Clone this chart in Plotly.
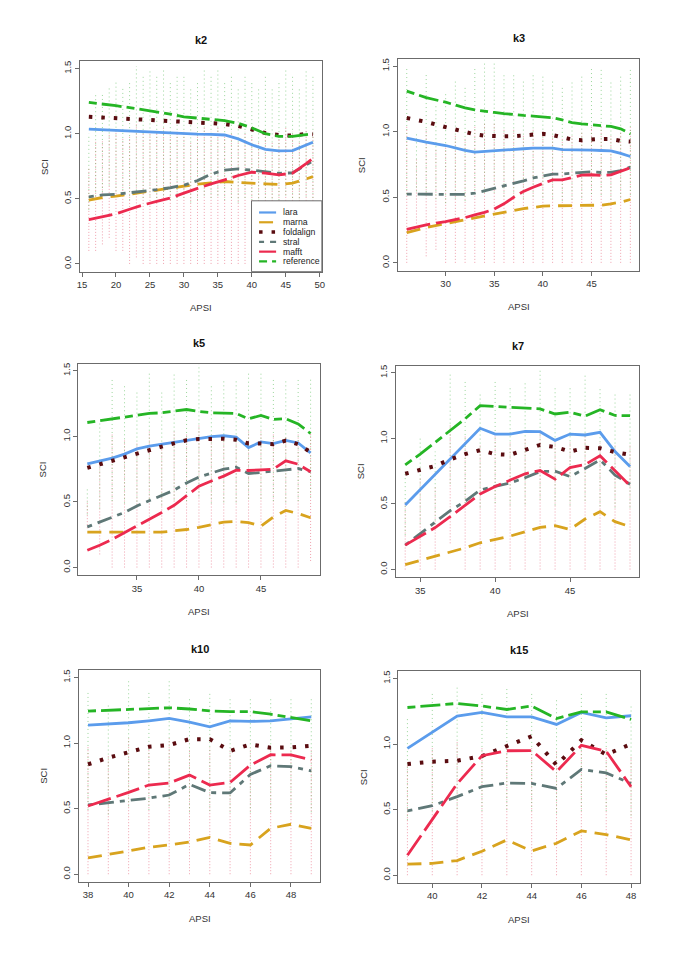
import plotly.graph_objects as go

# ---- k2 ----
k2_apsi = [16, 18, 20, 22, 24, 26, 28, 30, 32, 34, 36, 38, 40, 42, 44, 46, 48, 49]
k2_lara = [1.035, 1.03, 1.025, 1.018, 1.013, 1.008, 1.005, 1.0, 0.997, 0.995, 0.99, 0.96, 0.915, 0.88, 0.868, 0.87, 0.91, 0.935]
k2_marna = [0.49, 0.51, 0.52, 0.535, 0.55, 0.565, 0.58, 0.6, 0.613, 0.623, 0.633, 0.625, 0.618, 0.615, 0.61, 0.62, 0.653, 0.67]
k2_foldalign = [1.13, 1.125, 1.12, 1.115, 1.11, 1.105, 1.1, 1.095, 1.09, 1.085, 1.075, 1.06, 1.035, 1.005, 0.99, 0.985, 1.0, 0.995]
k2_stral = [0.515, 0.53, 0.535, 0.545, 0.555, 0.57, 0.585, 0.605, 0.64, 0.69, 0.72, 0.73, 0.72, 0.71, 0.695, 0.7, 0.76, 0.79]
k2_mafft = [0.34, 0.36, 0.385, 0.42, 0.453, 0.48, 0.506, 0.544, 0.582, 0.615, 0.646, 0.679, 0.704, 0.697, 0.684, 0.697, 0.77, 0.81]
k2_reference = [1.24, 1.23, 1.215, 1.2, 1.185, 1.168, 1.15, 1.13, 1.12, 1.11, 1.1, 1.08, 1.045, 1.0, 0.98, 0.98, 0.995, 1.0]
k2_col_x = list(range(16, 50))
k2_col_lo = [0.1, 0.1, 0.15, 0.2, 0.1, 0.1, 0.0, 0.05, 0.0, 0.0, 0.0, 0.0, 0.0, 0.0, 0.0, 0.0, 0.0,
             0.0, 0.0, 0.0, 0.0, 0.0, 0.0, 0.0, 0.0, 0.0, 0.0, 0.0, 0.0, 0.0, 0.0, 0.0, 0.0, 0.0]
k2_col_hi = [1.0, 1.3, 1.3, 1.35, 1.4, 1.35, 1.4, 1.52, 1.45, 1.48, 1.45, 1.5, 1.4, 1.45, 1.45, 1.35, 1.4,
             1.5, 1.45, 1.5, 1.4, 1.45, 1.35, 1.45, 1.4, 1.35, 1.45, 1.35, 1.4, 1.5, 1.45, 1.35, 1.48, 1.45]

# ---- k3 ----
k3_apsi = [26, 28, 30, 32, 33, 34, 35, 36, 37, 38, 39, 40, 41, 42, 43, 44, 45, 46, 47, 48, 49]
k3_lara = [0.951, 0.92, 0.895, 0.857, 0.844, 0.85, 0.857, 0.86, 0.864, 0.87, 0.875, 0.875, 0.875, 0.864, 0.864, 0.864, 0.86, 0.857, 0.854, 0.835, 0.811]
k3_marna = [0.23, 0.27, 0.3, 0.33, 0.345, 0.355, 0.37, 0.39, 0.4, 0.414, 0.425, 0.432, 0.435, 0.435, 0.435, 0.435, 0.437, 0.44, 0.45, 0.463, 0.483]
k3_foldalign = [1.105, 1.075, 1.035, 0.995, 0.98, 0.97, 0.965, 0.965, 0.966, 0.97, 0.975, 0.984, 0.975, 0.955, 0.94, 0.935, 0.942, 0.945, 0.945, 0.93, 0.925]
k3_stral = [0.524, 0.522, 0.52, 0.522, 0.531, 0.55, 0.565, 0.585, 0.603, 0.625, 0.648, 0.664, 0.676, 0.678, 0.685, 0.692, 0.695, 0.689, 0.69, 0.704, 0.73]
k3_mafft = [0.255, 0.29, 0.315, 0.345, 0.366, 0.385, 0.41, 0.45, 0.5, 0.545, 0.577, 0.608, 0.633, 0.633, 0.65, 0.669, 0.672, 0.666, 0.671, 0.699, 0.725]
k3_reference = [1.31, 1.26, 1.225, 1.182, 1.167, 1.155, 1.147, 1.138, 1.129, 1.124, 1.119, 1.11, 1.106, 1.09, 1.07, 1.06, 1.055, 1.048, 1.04, 1.022, 0.984]
k3_col_x = list(range(26, 50))
k3_col_lo = [0.0, 0.3, 0.05, 0.1, 0.0, 0.0, 0.0, 0.0, 0.0, 0.0, 0.0, 0.0,
             0.0, 0.0, 0.0, 0.0, 0.0, 0.0, 0.0, 0.0, 0.0, 0.0, 0.0, 0.0]
k3_col_hi = [1.5, 1.0, 1.45, 1.2, 1.3, 1.4, 1.35, 1.5, 1.53, 1.53, 1.45, 1.45,
             1.4, 1.45, 1.42, 1.4, 1.35, 1.38, 1.42, 1.5, 1.48, 1.38, 1.42, 1.48]

# ---- k5 ----
k5_apsi = list(range(31, 50))
k5_lara = [0.79, 0.81, 0.835, 0.865, 0.905, 0.925, 0.94, 0.955, 0.97, 0.985, 0.998, 1.005, 0.995, 0.915, 0.958, 0.945, 0.97, 0.95, 0.875]
k5_marna = [0.27, 0.27, 0.27, 0.27, 0.27, 0.27, 0.27, 0.28, 0.29, 0.307, 0.325, 0.346, 0.351, 0.343, 0.315, 0.386, 0.435, 0.412, 0.38]
k5_foldalign = [0.76, 0.788, 0.816, 0.845, 0.87, 0.897, 0.922, 0.947, 0.97, 0.98, 0.984, 0.982, 0.975, 0.946, 0.946, 0.94, 0.968, 0.94, 0.88]
k5_stral = [0.31, 0.345, 0.385, 0.42, 0.47, 0.51, 0.55, 0.59, 0.645, 0.69, 0.72, 0.75, 0.765, 0.717, 0.725, 0.737, 0.745, 0.755, 0.732]
k5_mafft = [0.132, 0.17, 0.215, 0.265, 0.32, 0.37, 0.42, 0.475, 0.545, 0.62, 0.66, 0.697, 0.742, 0.74, 0.745, 0.75, 0.814, 0.788, 0.73]
k5_reference = [1.106, 1.12, 1.135, 1.15, 1.165, 1.175, 1.18, 1.19, 1.205, 1.19, 1.18, 1.178, 1.175, 1.134, 1.16, 1.13, 1.135, 1.095, 1.022]
k5_col_x = list(range(31, 50))
k5_col_lo = [0.3, 0.1, 0.0, 0.0, 0.0, 0.0, 0.0, 0.0, 0.0, 0.0, 0.0, 0.0, 0.0, 0.0, 0.0, 0.0, 0.0, 0.0, 0.05]
k5_col_hi = [0.6, 1.1, 1.45, 1.4, 1.35, 1.5, 1.35, 1.48, 1.45, 1.55, 1.4, 1.42, 1.42, 1.5, 1.5, 1.45, 1.42, 1.45, 1.45]

# ---- k7 ----
k7_apsi = list(range(34, 50))
k7_lara = [0.492, 0.61, 0.725, 0.84, 0.96, 1.077, 1.033, 1.033, 1.054, 1.051, 0.985, 1.033, 1.026, 1.046, 0.9, 0.786]
k7_marna = [0.038, 0.07, 0.1, 0.135, 0.165, 0.204, 0.23, 0.255, 0.288, 0.321, 0.334, 0.306, 0.385, 0.441, 0.365, 0.327]
k7_foldalign = [0.73, 0.76, 0.79, 0.84, 0.88, 0.91, 0.88, 0.875, 0.91, 0.95, 0.935, 0.9, 0.928, 0.925, 0.895, 0.875]
k7_stral = [0.186, 0.275, 0.36, 0.449, 0.52, 0.607, 0.635, 0.66, 0.7, 0.747, 0.75, 0.709, 0.77, 0.837, 0.72, 0.65]
k7_mafft = [0.186, 0.25, 0.32, 0.403, 0.49, 0.577, 0.633, 0.68, 0.73, 0.755, 0.689, 0.778, 0.8, 0.867, 0.75, 0.64]
k7_reference = [0.798, 0.88, 0.97, 1.06, 1.15, 1.25, 1.245, 1.235, 1.235, 1.225, 1.186, 1.2, 1.17, 1.219, 1.175, 1.173]
k7_col_x = list(range(34, 50))
k7_col_lo = [0.0, 0.0, 0.0, 0.2, 0.0, 0.0, 0.0, 0.0, 0.0, 0.0, 0.0, 0.0, 0.0, 0.0, 0.0, 0.0]
k7_col_hi = [0.75, 1.0, 0.9, 1.5, 1.45, 1.35, 1.45, 1.4, 1.42, 1.52, 1.4, 1.4, 1.5, 1.38, 1.35, 1.35]

# ---- k10 ----
k10_apsi = list(range(38, 50))
k10_lara = [1.137, 1.145, 1.155, 1.17, 1.188, 1.16, 1.124, 1.17, 1.165, 1.17, 1.185, 1.2]
k10_marna = [0.124, 0.15, 0.18, 0.205, 0.223, 0.245, 0.28, 0.235, 0.223, 0.35, 0.381, 0.35]
k10_foldalign = [0.838, 0.888, 0.93, 0.972, 0.985, 1.03, 1.03, 0.94, 0.99, 0.965, 0.967, 0.98]
k10_stral = [0.528, 0.545, 0.56, 0.58, 0.604, 0.685, 0.622, 0.62, 0.761, 0.827, 0.82, 0.789]
k10_mafft = [0.52, 0.57, 0.624, 0.68, 0.695, 0.756, 0.68, 0.7, 0.832, 0.911, 0.91, 0.871]
k10_reference = [1.244, 1.25, 1.255, 1.265, 1.269, 1.26, 1.245, 1.24, 1.24, 1.22, 1.195, 1.17]
k10_col_x = list(range(38, 50))
k10_col_lo = [0.0, 0.0, 0.0, 0.0, 0.0, 0.0, 0.0, 0.0, 0.0, 0.0, 0.0, 0.0]
k10_col_hi = [1.4, 1.3, 1.48, 1.4, 1.48, 1.35, 1.38, 1.35, 1.35, 1.35, 1.35, 1.35]

# ---- k15 ----
k15_apsi = list(range(39, 49))
k15_lara = [0.967, 1.09, 1.213, 1.241, 1.208, 1.208, 1.15, 1.241, 1.2, 1.216]
k15_marna = [0.084, 0.09, 0.112, 0.183, 0.269, 0.185, 0.244, 0.338, 0.31, 0.27]
k15_foldalign = [0.848, 0.866, 0.873, 0.909, 0.985, 1.06, 0.84, 1.03, 0.92, 1.0]
k15_stral = [0.49, 0.53, 0.599, 0.675, 0.703, 0.7, 0.662, 0.807, 0.78, 0.7]
k15_mafft = [0.152, 0.43, 0.698, 0.911, 0.949, 0.95, 0.789, 0.99, 0.945, 0.675]
k15_reference = [1.279, 1.295, 1.31, 1.29, 1.264, 1.29, 1.195, 1.245, 1.245, 1.188]
k15_col_x = list(range(39, 49))
k15_col_lo = [0.0, 0.0, 0.0, 0.0, 0.0, 0.0, 0.0, 0.0, 0.0, 0.0]
k15_col_hi = [1.2, 1.4, 1.45, 1.4, 1.42, 1.4, 1.35, 1.4, 1.4, 1.3]

methods = ["lara", "marna", "foldalign", "stral", "mafft", "reference"]
colors = {"lara": "#5B9CEC", "marna": "#D8A31E", "foldalign": "#5A0C10",
          "stral": "#5F7877", "mafft": "#EC2A4F", "reference": "#25B525"}
dashes = {"lara": "solid", "marna": "14px,8px", "foldalign": "3.5px,9px",
          "stral": "5px,6px,15px,6px", "mafft": "24px,6px", "reference": "8px,5px,20px,5px"}
widths = {"lara": 2.8, "marna": 2.8, "foldalign": 4, "stral": 2.8, "mafft": 2.8, "reference": 2.8}

panels = [
    ("k2", k2_apsi, [k2_lara, k2_marna, k2_foldalign, k2_stral, k2_mafft, k2_reference],
     k2_col_x, k2_col_lo, k2_col_hi),
    ("k3", k3_apsi, [k3_lara, k3_marna, k3_foldalign, k3_stral, k3_mafft, k3_reference],
     k3_col_x, k3_col_lo, k3_col_hi),
    ("k5", k5_apsi, [k5_lara, k5_marna, k5_foldalign, k5_stral, k5_mafft, k5_reference],
     k5_col_x, k5_col_lo, k5_col_hi),
    ("k7", k7_apsi, [k7_lara, k7_marna, k7_foldalign, k7_stral, k7_mafft, k7_reference],
     k7_col_x, k7_col_lo, k7_col_hi),
    ("k10", k10_apsi, [k10_lara, k10_marna, k10_foldalign, k10_stral, k10_mafft, k10_reference],
     k10_col_x, k10_col_lo, k10_col_hi),
    ("k15", k15_apsi, [k15_lara, k15_marna, k15_foldalign, k15_stral, k15_mafft, k15_reference],
     k15_col_x, k15_col_lo, k15_col_hi),
]

# page layout in window pixels; the page body has an 8px margin
PAGE_W, PAGE_H, OFF = 685, 966, 8
W, H = PAGE_W - 2 * OFF, PAGE_H - 2 * OFF


def px(x):
    return (x - OFF) / W


def py(y):
    return 1 - (y - OFF) / H


# left, right, top, bottom of each plot box
boxes = [(77.5, 321.7, 60.5, 271), (398.3, 642, 58, 270),
         (76, 319.3, 363, 575), (396.7, 641.7, 365, 577),
         (76.7, 320, 670, 882), (399, 642.7, 671, 883)]
title_y = [39, 37, 342, 345, 649, 650]
xranges = [[14.68, 50.32], [25.08, 49.92], [30.28, 49.72], [33.4, 49.6], [37.56, 49.44], [38.64, 48.36]]
xticks = [list(range(15, 51, 5)), [30, 35, 40, 45], [35, 40, 45], [35, 40, 45],
          list(range(38, 49, 2)), list(range(40, 49, 2))]

FONT = "Liberation Sans, Arial, sans-serif"
fig = go.Figure()
annotations = []
shapes = []

for i, (name, apsi, series, cx, clo, chi) in enumerate(panels):
    sfx = "" if i == 0 else str(i + 1)
    xa, ya = "x" + sfx, "y" + sfx

    # faint columns of points
    rx, ry, gx, gy = [], [], [], []
    for x, lo, hi in zip(cx, clo, chi):
        rx += [x, x, None]
        ry += [lo, lo + 0.7 * (hi - lo), None]
        gx += [x, x, None]
        gy += [lo + 0.35 * (hi - lo), hi, None]
    fig.add_trace(go.Scatter(x=rx, y=ry, mode="lines", xaxis=xa, yaxis=ya, showlegend=False,
                             hoverinfo="skip",
                             line=dict(color="rgba(225,70,95,0.5)", width=1, dash="1px,2px")))
    fig.add_trace(go.Scatter(x=gx, y=gy, mode="lines", xaxis=xa, yaxis=ya, showlegend=False,
                             hoverinfo="skip",
                             line=dict(color="rgba(60,175,60,0.5)", width=1, dash="1px,3px")))

    for m, vals in zip(methods, series):
        fig.add_trace(go.Scatter(x=apsi, y=vals, mode="lines", name=m, xaxis=xa, yaxis=ya,
                                 showlegend=False,
                                 line=dict(color=colors[m], width=widths[m], dash=dashes[m])))

    l, r, t, b = boxes[i]
    axis_common = dict(showline=True, mirror=True, linecolor="#6b6b6b", linewidth=1,
                       ticks="outside", ticklen=4, tickcolor="#6b6b6b", showgrid=False,
                       zeroline=False, tickfont=dict(family=FONT, size=9.5, color="#333"))
    fig.layout["xaxis" + sfx] = dict(domain=[px(l), px(r)], range=xranges[i], anchor=ya,
                                     tickvals=xticks[i], **axis_common)
    fig.layout["yaxis" + sfx] = dict(domain=[py(b), py(t)], range=[-0.06, 1.555],
                                     anchor=xa, tickvals=[0, 0.5, 1.0, 1.5],
                                     ticktext=["0.0", "0.5", "1.0", "1.5"], tickangle=-90,
                                     **axis_common)

    cxp = px((l + r) / 2)
    annotations.append(dict(text="<b>%s</b>" % name, x=cxp, y=py(title_y[i]), xref="paper",
                            yref="paper", showarrow=False, xanchor="center", yanchor="middle",
                            font=dict(family=FONT, size=11, color="#111")))
    annotations.append(dict(text="APSI", x=cxp, y=py(b + 36), xref="paper", yref="paper",
                            showarrow=False, xanchor="center", yanchor="middle",
                            font=dict(family=FONT, size=9.5, color="#333")))
    annotations.append(dict(text="SCI", x=px(l - 35.8), y=py((t + b) / 2), xref="paper",
                            yref="paper", showarrow=False, textangle=-90,
                            xanchor="center", yanchor="middle",
                            font=dict(family=FONT, size=9.5, color="#333")))

# legend drawn inside the k2 panel
lg_l, lg_t, lg_r, lg_b = 250.7, 200, 321.7, 271
shapes.append(dict(type="rect", xref="paper", yref="paper", x0=px(lg_l), x1=px(lg_r),
                   y0=py(lg_b), y1=py(lg_t), fillcolor="white",
                   line=dict(color="#6b6b6b", width=1), layer="above"))
for j, m in enumerate(methods):
    row = 211.7 + j * 9.8
    shapes.append(dict(type="line", xref="paper", yref="paper", x0=px(258.3), x1=px(275.5),
                       y0=py(row), y1=py(row), layer="above",
                       line=dict(color=colors[m], width=widths[m] - 0.6,
                                 dash="solid" if m == "lara" else dashes[m])))
    annotations.append(dict(text=m, x=px(280.5), y=py(row), xref="paper", yref="paper",
                            xanchor="left", yanchor="middle", showarrow=False,
                            font=dict(family=FONT, size=8.7, color="#222")))

fig.update_layout(width=W, height=H, margin=dict(l=0, r=0, t=0, b=0),
                  paper_bgcolor="white", plot_bgcolor="white",
                  annotations=annotations, shapes=shapes, showlegend=False)

fig.write_html("out.html")
